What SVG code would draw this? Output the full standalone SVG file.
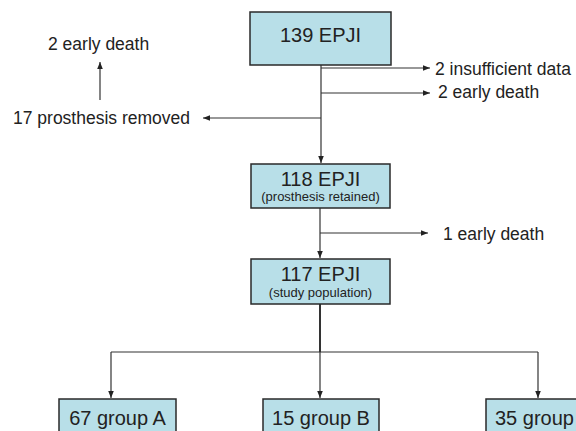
<svg xmlns="http://www.w3.org/2000/svg" width="576" height="431" viewBox="0 0 576 431">
<defs>
<marker id="ah" viewBox="0 0 10 10" refX="10" refY="5" markerWidth="7" markerHeight="7" markerUnits="userSpaceOnUse" orient="auto">
<path d="M0,1 L10,5 L0,9 Z" fill="#222"/>
</marker>
<style>
.box{fill:#b8dfe8;stroke:#2a2a2a;stroke-width:1.5}
.t{font-family:"Liberation Sans",Arial,sans-serif;fill:#222}
.ln{fill:none;stroke:#333;stroke-width:1.2}
</style>
</defs>
<rect width="576" height="431" fill="#fff"/>
<g id="connectors">
<path class="ln" d="M321,65 V163" marker-end="url(#ah)"/>
<path class="ln" d="M321,68 H430" marker-end="url(#ah)"/>
<path class="ln" d="M321,93 H430" marker-end="url(#ah)"/>
<path class="ln" d="M321,118 H203" marker-end="url(#ah)"/>
<path class="ln" d="M100,100 V62" marker-end="url(#ah)"/>
<path class="ln" d="M320,208 V258" marker-end="url(#ah)"/>
<path class="ln" d="M320,233 H428" marker-end="url(#ah)"/>
<path class="ln" d="M320,304 V352" style="stroke-width:2"/>
<path class="ln" d="M111,352 H538"/>
<path class="ln" d="M111,352 V398" marker-end="url(#ah)"/>
<path class="ln" d="M320,352 V398" marker-end="url(#ah)"/>
<path class="ln" d="M538,352 V398" marker-end="url(#ah)"/>
</g>
<g id="n139">
<rect class="box" x="250" y="12" width="141" height="53"/>
<text class="t" x="320.5" y="42" font-size="20" text-anchor="middle">139 EPJI</text>
</g>
<g id="insufficient">
<text class="t" x="435" y="75" font-size="17.5">2 insufficient data</text>
</g>
<g id="death1">
<text class="t" x="438" y="98" font-size="17.5">2 early death</text>
</g>
<g id="removed">
<text class="t" x="13" y="124" font-size="17.5">17 prosthesis removed</text>
</g>
<g id="death2">
<text class="t" x="48" y="50" font-size="17.5">2 early death</text>
</g>
<g id="n118">
<rect class="box" x="251" y="164" width="139" height="44"/>
<text class="t" x="320.5" y="186" font-size="20" text-anchor="middle">118 EPJI</text>
<text class="t" x="320.5" y="201" font-size="13" text-anchor="middle">(prosthesis retained)</text>
</g>
<g id="death3">
<text class="t" x="443" y="240" font-size="17.5">1 early death</text>
</g>
<g id="n117">
<rect class="box" x="251" y="259" width="139" height="45"/>
<text class="t" x="320.5" y="281" font-size="20" text-anchor="middle">117 EPJI</text>
<text class="t" x="320.5" y="297" font-size="13" text-anchor="middle">(study population)</text>
</g>
<g id="groupA">
<rect class="box" x="59" y="399" width="117" height="40"/>
<text class="t" x="117.5" y="425" font-size="20" text-anchor="middle">67 group A</text>
</g>
<g id="groupB">
<rect class="box" x="263" y="399" width="116" height="40"/>
<text class="t" x="321" y="425" font-size="20" text-anchor="middle">15 group B</text>
</g>
<g id="groupC">
<rect class="box" x="486" y="399" width="100" height="40"/>
<text class="t" x="495" y="425" font-size="20">35 group</text>
</g>
</svg>
